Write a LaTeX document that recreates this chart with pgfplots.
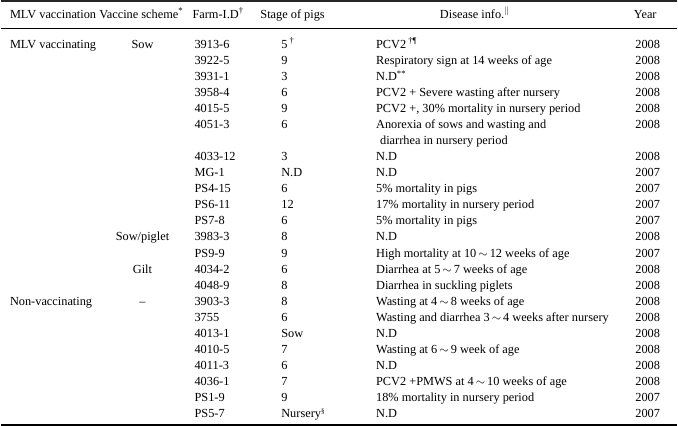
\documentclass[border=0pt]{standalone}
\usepackage{pgfplots}
\pgfplotsset{compat=1.18}
\usepackage{fontspec}
\setmainfont{Liberation Serif}
\newcommand{\sq}{\,$\sim$\,}
\begin{document}
\fontsize{12.4}{15}\selectfont
\begin{tikzpicture}
\begin{axis}[
  width=678bp, height=429bp, scale only axis,
  xmin=0, xmax=678, ymin=0, ymax=429, y dir=reverse,
  hide axis, clip=false,
  every node near coord/.append style={inner sep=0pt, text=black, font=\fontsize{12.4}{15}\selectfont},
]
% horizontal rules
\addplot[black!85, line width=1.7bp, forget plot] coordinates {(0,1.5) (678,1.5)};
\addplot[black, line width=0.8bp, forget plot] coordinates {(0,29) (678,29)};
\addplot[black, line width=1.7bp, forget plot] coordinates {(0,426.5) (678,426.5)};

% header, left anchored
\addplot[only marks, mark=none, nodes near coords, point meta=explicit symbolic,
  every node near coord/.append style={anchor=base west}]
  table[meta=t, col sep=semicolon, row sep=\\] {
x;y;t\\
9;19;MLV vaccination\\
98.5;19;Vaccine scheme\textsuperscript{*}\\
192;19;Farm-I.D\textsuperscript{†}\\
260;19;Stage of pigs\\
};
% header, centred
\addplot[only marks, mark=none, nodes near coords, point meta=explicit symbolic,
  every node near coord/.append style={anchor=base}]
  table[meta=t, col sep=semicolon, row sep=\\] {
x;y;t\\
475;19;Disease info.\textsuperscript{$\|$}\\
646;19;Year\\
};

% MLV vaccination column
\addplot[only marks, mark=none, nodes near coords, point meta=explicit symbolic,
  every node near coord/.append style={anchor=base west}]
  table[meta=t, col sep=semicolon, row sep=\\] {
x;y;t\\
9;49.0;MLV vaccinating\\
9;306.6;Non-vaccinating\\
};

% Vaccine scheme column (centred)
\addplot[only marks, mark=none, nodes near coords, point meta=explicit symbolic,
  every node near coord/.append style={anchor=base}]
  table[meta=t, col sep=semicolon, row sep=\\] {
x;y;t\\
142;49.0;Sow\\
142;242.2;Sow/piglet\\
142;274.4;Gilt\\
142;306.6;–\\
};

% Farm-I.D column
\addplot[only marks, mark=none, nodes near coords, point meta=explicit symbolic,
  every node near coord/.append style={anchor=base west}]
  table[meta=t, col sep=semicolon, row sep=\\] {
x;y;t\\
194;49.0;3913-6\\
194;65.1;3922-5\\
194;81.2;3931-1\\
194;97.3;3958-4\\
194;113.4;4015-5\\
194;129.5;4051-3\\
194;161.7;4033-12\\
194;177.8;MG-1\\
194;193.9;PS4-15\\
194;210.0;PS6-11\\
194;226.1;PS7-8\\
194;242.2;3983-3\\
194;258.3;PS9-9\\
194;274.4;4034-2\\
194;290.5;4048-9\\
194;306.6;3903-3\\
194;322.7;3755\\
194;338.8;4013-1\\
194;354.9;4010-5\\
194;371.0;4011-3\\
194;387.1;4036-1\\
194;403.2;PS1-9\\
194;419.3;PS5-7\\
};

% Stage of pigs column
\addplot[only marks, mark=none, nodes near coords, point meta=explicit symbolic,
  every node near coord/.append style={anchor=base west}]
  table[meta=t, col sep=semicolon, row sep=\\] {
x;y;t\\
281;49.0;5\,\textsuperscript{†}\\
281;65.1;9\\
281;81.2;3\\
281;97.3;6\\
281;113.4;9\\
281;129.5;6\\
281;161.7;3\\
281;177.8;N.D\\
281;193.9;6\\
281;210.0;12\\
281;226.1;6\\
281;242.2;8\\
281;258.3;9\\
281;274.4;6\\
281;290.5;8\\
281;306.6;8\\
281;322.7;6\\
281;338.8;Sow\\
281;354.9;7\\
281;371.0;6\\
281;387.1;7\\
281;403.2;9\\
281;419.3;Nursery\textsuperscript{\scriptsize §}\\
};

% Disease info column
\addplot[only marks, mark=none, nodes near coords, point meta=explicit symbolic,
  every node near coord/.append style={anchor=base west}]
  table[meta=t, col sep=semicolon, row sep=\\] {
x;y;t\\
376;49.0;PCV2\,\textsuperscript{†¶}\\
376;65.1;Respiratory sign at 14 weeks of age\\
376;81.2;N.D\textsuperscript{**}\\
376;97.3;PCV2 + Severe wasting after nursery\\
376;113.4;PCV2 +, 30\% mortality in nursery period\\
376;129.5;Anorexia of sows and wasting and\\
380;145.6;diarrhea in nursery period\\
376;161.7;N.D\\
376;177.8;N.D\\
376;193.9;5\% mortality in pigs\\
376;210.0;17\% mortality in nursery period\\
376;226.1;5\% mortality in pigs\\
376;242.2;N.D\\
376;258.3;High mortality at 10\sq 12 weeks of age\\
376;274.4;Diarrhea at 5\sq 7 weeks of age\\
376;290.5;Diarrhea in suckling piglets\\
376;306.6;Wasting at 4\sq 8 weeks of age\\
376;322.7;Wasting and diarrhea 3\sq 4 weeks after nursery\\
376;338.8;N.D\\
376;354.9;Wasting at 6\sq 9 week of age\\
376;371.0;N.D\\
376;387.1;PCV2 +PMWS at 4\sq 10 weeks of age\\
376;403.2;18\% mortality in nursery period\\
376;419.3;N.D\\
};

% Year column (right aligned)
\addplot[only marks, mark=none, nodes near coords, point meta=explicit symbolic,
  every node near coord/.append style={anchor=base east}]
  table[meta=t, col sep=semicolon, row sep=\\] {
x;y;t\\
661;49.0;2008\\
661;65.1;2008\\
661;81.2;2008\\
661;97.3;2008\\
661;113.4;2008\\
661;129.5;2008\\
661;161.7;2008\\
661;177.8;2007\\
661;193.9;2007\\
661;210.0;2007\\
661;226.1;2007\\
661;242.2;2008\\
661;258.3;2007\\
661;274.4;2008\\
661;290.5;2008\\
661;306.6;2008\\
661;322.7;2008\\
661;338.8;2008\\
661;354.9;2008\\
661;371.0;2008\\
661;387.1;2008\\
661;403.2;2007\\
661;419.3;2007\\
};
\end{axis}
\end{tikzpicture}
\end{document}
